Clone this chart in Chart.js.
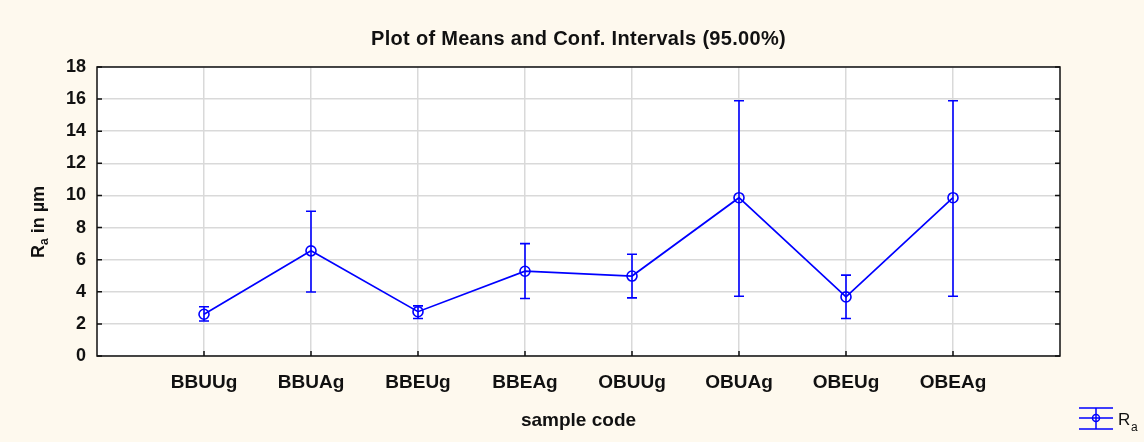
<!DOCTYPE html>
<html>
<head>
<meta charset="utf-8">
<script src="https://cdn.jsdelivr.net/npm/chart.js@4.4.1/dist/chart.umd.min.js"></script>
<style>
    html, body { margin: 0; padding: 0; background: #fef9ee; }
</style>
</head>
<body>
<canvas id="meansChart" width="1144" height="442"></canvas>
<script>
// Sample codes and Ra means with 95% confidence limits
const categories = ['BBUUg', 'BBUAg', 'BBEUg', 'BBEAg', 'OBUUg', 'OBUAg', 'OBEUg', 'OBEAg'];
const means = [2.6, 6.55, 2.76, 5.28, 4.98, 9.86, 3.68, 9.86];
const upperCI = [3.07, 9.02, 3.12, 7.0, 6.34, 15.9, 5.04, 15.9];
const lowerCI = [2.18, 3.99, 2.34, 3.58, 3.62, 3.72, 2.34, 3.72];
const yTicks = [0, 2, 4, 6, 8, 10, 12, 14, 16, 18];

const BLUE = '#0000ff';
const FONT = "'Liberation Sans', Arial, sans-serif";
const TITLE = 'Plot of Means and Conf. Intervals (95.00%)';

// Cream page, white plot area
const backgroundPlugin = {
    id: 'background',
    beforeDraw(chart) {
        const { ctx, chartArea: a } = chart;
        ctx.save();
        ctx.fillStyle = '#fef9ee';
        ctx.fillRect(0, 0, chart.width, chart.height);
        ctx.fillStyle = '#ffffff';
        ctx.fillRect(a.left, a.top, a.right - a.left, a.bottom - a.top);
        ctx.restore();
    }
};

// Vertical confidence interval whiskers
const errorBarPlugin = {
    id: 'errorBars',
    afterDatasetsDraw(chart) {
        const { ctx, scales: { x, y } } = chart;
        ctx.save();
        ctx.strokeStyle = BLUE;
        ctx.lineWidth = 1.6;
        categories.forEach((c, i) => {
            const px = x.getPixelForValue(i + 1);
            const top = y.getPixelForValue(upperCI[i]);
            const bot = y.getPixelForValue(lowerCI[i]);
            ctx.beginPath();
            ctx.moveTo(px, top); ctx.lineTo(px, bot);
            ctx.moveTo(px - 5, top); ctx.lineTo(px + 5, top);
            ctx.moveTo(px - 5, bot); ctx.lineTo(px + 5, bot);
            ctx.stroke();
        });
        ctx.restore();
    }
};

// Title, frame, inner tick marks, y title with subscript, legend
const framePlugin = {
    id: 'frame',
    afterDraw(chart) {
        const { ctx, chartArea: a, scales: { x, y } } = chart;
        ctx.save();

        // title centred over the plot area
        ctx.fillStyle = '#111111';
        ctx.font = 'bold 20px ' + FONT;
        ctx.letterSpacing = '0.3px';
        ctx.textAlign = 'center';
        ctx.textBaseline = 'middle';
        ctx.fillText(TITLE, (a.left + a.right) / 2, 39);
        ctx.letterSpacing = '0px';
        ctx.textAlign = 'left';

        ctx.strokeStyle = '#111111';
        ctx.lineWidth = 1.5;
        ctx.strokeRect(a.left, a.top, a.right - a.left, a.bottom - a.top);
        ctx.beginPath();
        yTicks.forEach(v => {
            const py = y.getPixelForValue(v);
            ctx.moveTo(a.left, py); ctx.lineTo(a.left + 5, py);
            ctx.moveTo(a.right - 5, py); ctx.lineTo(a.right, py);
        });
        categories.forEach((c, i) => {
            const px = x.getPixelForValue(i + 1);
            ctx.moveTo(px, a.bottom); ctx.lineTo(px, a.bottom - 5);
        });
        ctx.stroke();

        // y axis title: R_a in µm
        ctx.translate(44, 222);
        ctx.rotate(-Math.PI / 2);
        ctx.textBaseline = 'alphabetic';
        const big = 'bold 18px ' + FONT;
        const small = 'bold 12px ' + FONT;
        ctx.font = big;
        const wR = ctx.measureText('R').width;
        const wRest = ctx.measureText(' in µm').width;
        ctx.font = small;
        const wa = ctx.measureText('a').width;
        let sx = -(wR + wa + wRest) / 2;
        ctx.font = big;
        ctx.fillText('R', sx, 0);
        ctx.font = small;
        ctx.fillText('a', sx + wR, 4);
        ctx.font = big;
        ctx.fillText(' in µm', sx + wR + wa, 0);
        ctx.setTransform(1, 0, 0, 1, 0, 0);

        // legend
        const lx = 1079, rx = 1113, cx = 1096, cy = 418;
        ctx.strokeStyle = BLUE;
        ctx.lineWidth = 1.5;
        ctx.beginPath();
        ctx.moveTo(lx, 408); ctx.lineTo(rx, 408);
        ctx.moveTo(lx, cy); ctx.lineTo(rx, cy);
        ctx.moveTo(lx, 429); ctx.lineTo(rx, 429);
        ctx.moveTo(cx, 408); ctx.lineTo(cx, 429);
        ctx.stroke();
        ctx.beginPath();
        ctx.arc(cx, cy, 3.5, 0, Math.PI * 2);
        ctx.stroke();
        ctx.fillStyle = '#111111';
        ctx.font = '17px ' + FONT;
        ctx.fillText('R', 1118, 425);
        ctx.font = '12px ' + FONT;
        ctx.fillText('a', 1131, 431);
        ctx.restore();
    }
};

const meansChart = new Chart(document.getElementById('meansChart'), {
    type: 'line',
    data: {
        datasets: [{
            label: 'Ra',
            data: means.map((m, i) => ({ x: i + 1, y: m })),
            borderColor: BLUE,
            borderWidth: 1.7,
            pointStyle: 'circle',
            pointRadius: 5,
            pointBorderWidth: 1.6,
            pointBorderColor: BLUE,
            pointBackgroundColor: 'rgba(0,0,0,0)',
            tension: 0
        }]
    },
    options: {
        responsive: false,
        animation: false,
        layout: { padding: { top: 67, right: 84, left: 0, bottom: 0 } },
        plugins: {
            legend: { display: false },
            tooltip: { enabled: false },
            title: { display: false }
        },
        scales: {
            x: {
                type: 'linear',
                min: 0,
                max: 9,
                afterBuildTicks: s => { s.ticks = categories.map((c, i) => ({ value: i + 1 })); },
                afterFit: s => { s.height = 86; },
                grid: { color: '#d9d9d9', lineWidth: 1.5, drawTicks: false },
                border: { display: false },
                ticks: {
                    color: '#111111',
                    padding: 15,
                    font: { family: FONT, size: 19, weight: 'bold' },
                    callback: v => categories[v - 1]
                },
                title: {
                    display: true,
                    text: 'sample code',
                    color: '#111111',
                    font: { family: FONT, size: 19, weight: 'bold' },
                    padding: { top: 0, bottom: 10 }
                }
            },
            y: {
                min: 0,
                max: 18,
                afterBuildTicks: s => { s.ticks = yTicks.map(v => ({ value: v })); },
                afterFit: s => { s.width = 97; },
                grid: { color: '#d9d9d9', lineWidth: 1.5, drawTicks: false },
                border: { display: false },
                ticks: {
                    color: '#111111',
                    padding: 11,
                    font: { family: FONT, size: 18, weight: 'bold' }
                }
            }
        }
    },
    plugins: [backgroundPlugin, errorBarPlugin, framePlugin]
});
</script>
</body>
</html>
